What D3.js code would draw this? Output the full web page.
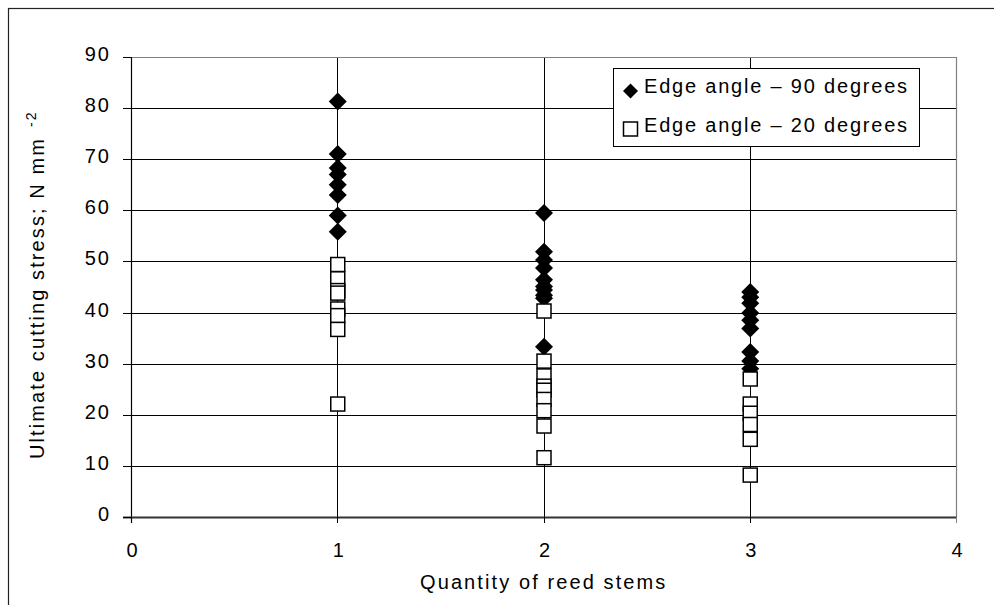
<!DOCTYPE html>
<html>
<head>
<meta charset="utf-8">
<script src="https://cdn.jsdelivr.net/npm/d3@7"></script>
<style>
  html, body { margin: 0; padding: 0; background: #fff; }
  svg { display: block; }
  text { font-family: "Liberation Sans", Arial, sans-serif; fill: #000; }
</style>
</head>
<body>
<svg id="chart" width="994" height="605"></svg>
<script>
// ---- data ----
const quantities = [1, 2, 3];
const stress90 = [
  [81.3, 71.0, 68.3, 67.0, 65.0, 63.0, 59.0, 55.8],
  [59.5, 51.9, 50.3, 48.7, 46.4, 45.1, 44.4, 43.4, 42.8, 33.3],
  [44.0, 43.0, 41.8, 39.9, 38.5, 36.9, 32.3, 30.5, 29.0]
];
const stress20 = [
  [49.4, 46.6, 44.3, 43.8, 40.7, 39.4, 36.7, 22.1],
  [40.3, 30.5, 27.6, 25.6, 24.8, 23.0, 20.8, 17.8, 11.6],
  [27.0, 22.1, 20.3, 18.1, 15.2, 8.2]
];
const xTicks = [0, 1, 2, 3, 4];
const yTicks = [0, 10, 20, 30, 40, 50, 60, 70, 80, 90];
const seriesNames = ["Edge angle \u2013 90 degrees", "Edge angle \u2013 20 degrees"];
const xTitle = "Quantity of reed stems";
const yTitle = "Ultimate cutting stress; N mm";
const yTitleSup = "-2";

// ---- layout ----
const svg = d3.select("#chart");
const L = 131, R = 956, T = 57, B = 517;
const x = d3.scaleLinear().domain([0, 4]).range([L, R]);
const y = d3.scaleLinear().domain([0, 90]).range([B, T]);

// outer chart frame (partly cropped)
svg.append("rect").attr("x", 8.5).attr("y", 8.5).attr("width", 1200).attr("height", 1200)
  .attr("fill", "none").attr("stroke", "#222").attr("stroke-width", 1.2);

// horizontal gridlines
svg.append("g").selectAll("line").data(yTicks.filter(d => d > 0 && d < 90)).join("line")
  .attr("x1", L).attr("x2", R).attr("y1", d => Math.round(y(d)) + 0.5).attr("y2", d => Math.round(y(d)) + 0.5)
  .attr("stroke", "#000").attr("stroke-width", 1);
// vertical gridlines
svg.append("g").selectAll("line").data(xTicks.filter(d => d > 0 && d < 4)).join("line")
  .attr("y1", T).attr("y2", B).attr("x1", d => Math.round(x(d)) + 0.5).attr("x2", d => Math.round(x(d)) + 0.5)
  .attr("stroke", "#000").attr("stroke-width", 1);

// plot area border (top, right) gray
svg.append("path")
  .attr("d", `M${L},${T + 0.5}H${R + 0.5}V${B}`)
  .attr("fill", "none").attr("stroke", "#808080").attr("stroke-width", 1.2);

// axes lines
svg.append("line").attr("x1", L + 0.5).attr("x2", L + 0.5).attr("y1", T).attr("y2", B + 6)
  .attr("stroke", "#000").attr("stroke-width", 1.2);
svg.append("line").attr("x1", L - 8).attr("x2", R + 1).attr("y1", B + 0.5).attr("y2", B + 0.5)
  .attr("stroke", "#333").attr("stroke-width", 1.8);

// y ticks
svg.append("g").selectAll("line").data(yTicks).join("line")
  .attr("x1", L - 8).attr("x2", L).attr("y1", d => Math.round(y(d)) + 0.5).attr("y2", d => Math.round(y(d)) + 0.5)
  .attr("stroke", "#000").attr("stroke-width", 1);
// x ticks
svg.append("g").selectAll("line").data(xTicks).join("line")
  .attr("x1", d => Math.round(x(d)) + 0.5).attr("x2", d => Math.round(x(d)) + 0.5).attr("y1", B).attr("y2", B + 6)
  .attr("stroke", d => d === 4 ? "#808080" : "#000").attr("stroke-width", 1);

// y tick labels
svg.append("g").selectAll("text").data(yTicks).join("text")
  .attr("x", 111).attr("y", d => y(d) + 4)
  .attr("text-anchor", "end").attr("font-size", 20).attr("letter-spacing", 2)
  .text(d => d);
// x tick labels
svg.append("g").selectAll("text").data(xTicks).join("text")
  .attr("x", d => x(d) + 1).attr("y", 557)
  .attr("text-anchor", "middle").attr("font-size", 20)
  .text(d => d);

// axis titles
svg.append("text").attr("x", 420).attr("y", 589).attr("font-size", 20).attr("letter-spacing", 2.1)
  .text(xTitle);
const yt = svg.append("text").attr("transform", "translate(44,459) rotate(-90)")
  .attr("font-size", 20).attr("letter-spacing", 2.1);
yt.append("tspan").text(yTitle);
yt.append("tspan").attr("dx", 10).attr("dy", -8).attr("font-size", 14).text(yTitleSup);

// markers
const diamondPath = r => `M0,${-r}L${r},0L0,${r}L${-r},0Z`;
const pts90 = quantities.flatMap((q, i) => stress90[i].map(v => ({ q, v })));
const pts20 = quantities.flatMap((q, i) => stress20[i].map(v => ({ q, v })));

svg.append("g").selectAll("path").data(pts90).join("path")
  .attr("transform", d => `translate(${x(d.q) + 0.5},${y(d.v)})`)
  .attr("d", diamondPath(9)).attr("fill", "#000");

svg.append("g").selectAll("rect").data(pts20).join("rect")
  .attr("x", d => x(d.q) + 0.5 - 7).attr("y", d => y(d.v) - 7)
  .attr("width", 14).attr("height", 14)
  .attr("fill", "#fff").attr("stroke", "#000").attr("stroke-width", 1.5);

// legend
const lg = svg.append("g");
lg.append("rect").attr("x", 613.5).attr("y", 68.5).attr("width", 306).attr("height", 78)
  .attr("fill", "#fff").attr("stroke", "#000").attr("stroke-width", 1);
lg.append("path").attr("transform", "translate(630.5,91)").attr("d", diamondPath(7.5)).attr("fill", "#000");
lg.append("rect").attr("x", 623.5).attr("y", 122).attr("width", 14).attr("height", 14)
  .attr("fill", "#fff").attr("stroke", "#000").attr("stroke-width", 1.5);
lg.selectAll("text.lt").data(seriesNames).join("text").attr("class", "lt")
  .attr("x", 644).attr("y", (d, i) => 93 + i * 39)
  .attr("font-size", 20).attr("letter-spacing", 1.8)
  .text(d => d);
</script>
</body>
</html>
